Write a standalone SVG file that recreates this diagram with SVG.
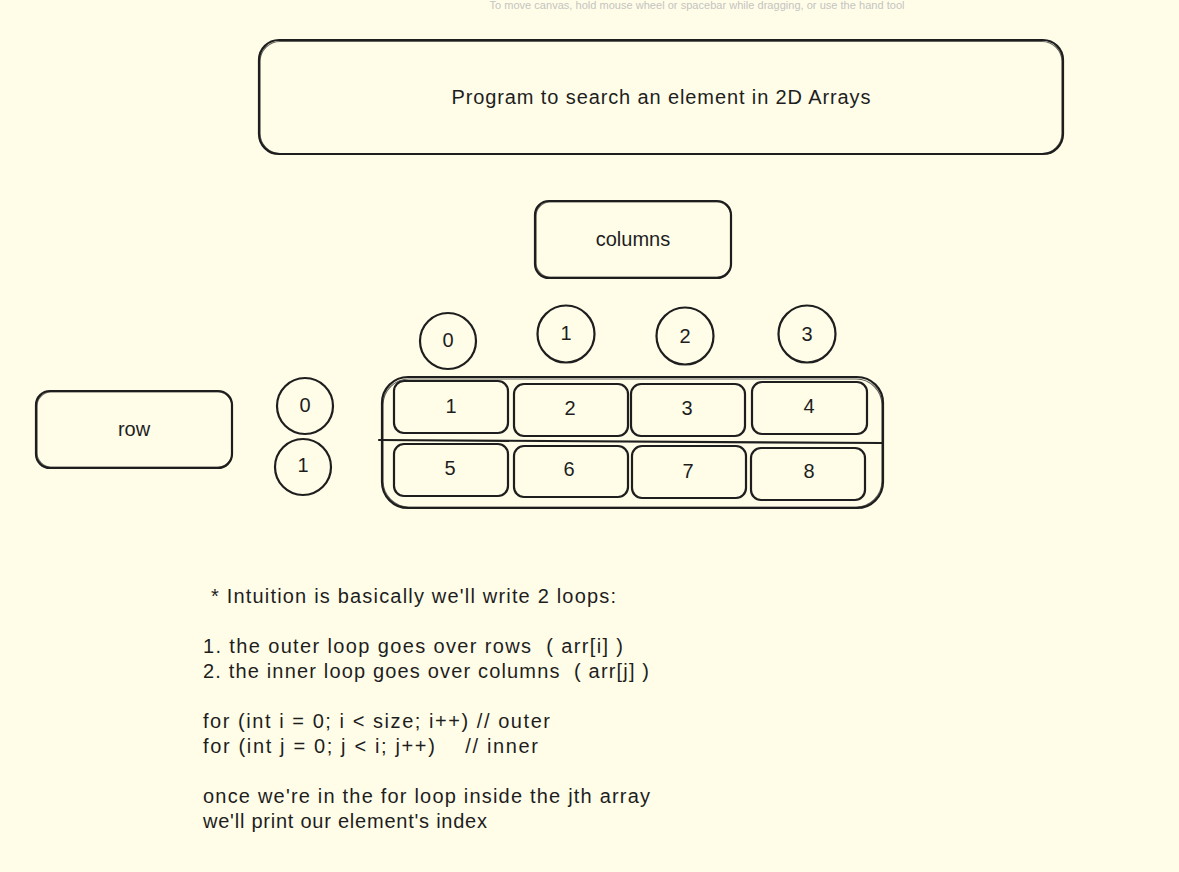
<svg xmlns="http://www.w3.org/2000/svg" width="1179" height="872" viewBox="0 0 1179 872">
<style>
.bg{fill:#fffde8}
.box{fill:none;stroke:#1e1e1e;stroke-width:2.2;stroke-linejoin:round;stroke-linecap:round}
.sk{fill:none;stroke:#1e1e1e;stroke-width:1.2;opacity:.7}
.t{font-family:"Liberation Sans","DejaVu Sans",sans-serif;font-size:20px;fill:#1e1e1e;white-space:pre}
.c{text-anchor:middle;dominant-baseline:central}
.hint{font-family:"Liberation Sans",sans-serif;font-size:11px;fill:#c4c4c0;text-anchor:middle}
</style>
<rect class="bg" x="0" y="0" width="1179" height="872"/>
<text class="hint" x="697" y="9" textLength="415">To move canvas, hold mouse wheel or spacebar while dragging, or use the hand tool</text>

<g id="title">
<rect class="box" x="259" y="40" width="804" height="114" rx="20"/>
<rect class="sk" x="260" y="41.5" width="802" height="112" rx="20"/>
<text class="t c" x="661" y="97" textLength="419">Program to search an element in 2D Arrays</text>
</g>

<g id="columns">
<rect class="box" x="535" y="201" width="196" height="77" rx="14"/>
<rect class="sk" x="536" y="202" width="195" height="75" rx="14"/>
<text class="t c" x="633" y="239">columns</text>
</g>

<g id="col0"><circle class="box" cx="448" cy="341" r="28"/><text class="t c" x="448" y="340">0</text></g>
<g id="col1"><circle class="box" cx="566" cy="334" r="28.5"/><text class="t c" x="566" y="333">1</text></g>
<g id="col2"><circle class="box" cx="685" cy="336" r="28.5"/><text class="t c" x="685" y="336">2</text></g>
<g id="col3"><circle class="box" cx="807" cy="334" r="28.5"/><text class="t c" x="807" y="334">3</text></g>

<g id="row">
<rect class="box" x="36" y="391" width="196" height="77" rx="14"/>
<rect class="sk" x="37" y="392" width="195" height="75" rx="14"/>
<text class="t c" x="134" y="429">row</text>
</g>

<g id="row0"><circle class="box" cx="305" cy="406" r="28"/><text class="t c" x="305" y="405">0</text></g>
<g id="row1"><circle class="box" cx="303" cy="467" r="28"/><text class="t c" x="303" y="465">1</text></g>

<g id="array">
<rect class="box" x="382" y="377" width="501" height="131" rx="26"/>
<rect class="sk" x="383" y="379" width="499" height="128" rx="26"/>
<path class="box" d="M379 440 L883 443"/>
</g>

<g id="cell1"><rect class="box" x="394" y="381" width="114" height="52" rx="10"/><text class="t c" x="451" y="406">1</text></g>
<g id="cell2"><rect class="box" x="514" y="384" width="114" height="52" rx="10"/><text class="t c" x="570" y="408">2</text></g>
<g id="cell3"><rect class="box" x="631" y="384" width="114" height="52" rx="10"/><text class="t c" x="687" y="408">3</text></g>
<g id="cell4"><rect class="box" x="752" y="382" width="115" height="52" rx="10"/><text class="t c" x="809" y="406">4</text></g>
<g id="cell5"><rect class="box" x="394" y="444" width="114" height="52" rx="10"/><text class="t c" x="450" y="468">5</text></g>
<g id="cell6"><rect class="box" x="514" y="446" width="114" height="51" rx="10"/><text class="t c" x="569" y="469">6</text></g>
<g id="cell7"><rect class="box" x="632" y="446" width="114" height="52" rx="10"/><text class="t c" x="688" y="471">7</text></g>
<g id="cell8"><rect class="box" x="751" y="448" width="114" height="52" rx="10"/><text class="t c" x="809" y="471">8</text></g>

<g id="connectors"></g>

<g id="notes">
<text class="t" x="211" y="603" textLength="405">* Intuition is basically we'll write 2 loops:</text>
<text class="t" x="203" y="653" textLength="420">1. the outer loop goes over rows  ( arr[i] )</text>
<text class="t" x="203" y="678" textLength="446">2. the inner loop goes over columns  ( arr[j] )</text>
<text class="t" x="203" y="728" textLength="347">for (int i = 0; i &lt; size; i++) // outer</text>
<text class="t" x="203" y="753" textLength="335">for (int j = 0; j &lt; i; j++)    // inner</text>
<text class="t" x="203" y="803" textLength="447">once we're in the for loop inside the jth array</text>
<text class="t" x="203" y="828" textLength="284">we'll print our element's index</text>
</g>
</svg>
